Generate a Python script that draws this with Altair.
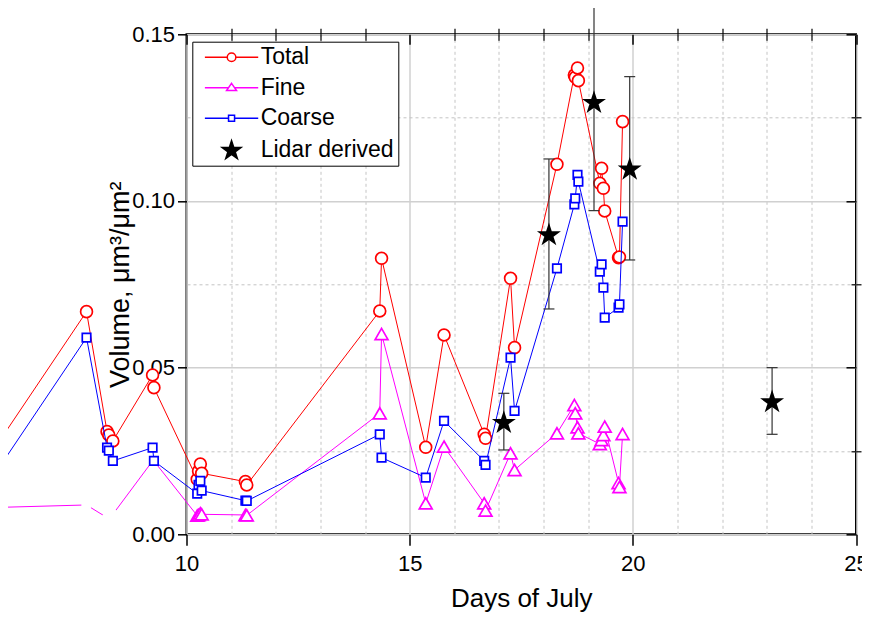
import math
import altair as alt
import pandas as pd

# ---------------- data ----------------
days = [5.6, 7.76, 8.22, 8.26, 8.35, 9.24, 9.27, 10.24, 10.27, 10.31, 10.34,
        11.32, 11.35, 14.33, 14.37, 15.36, 15.77, 16.67, 16.70, 17.26, 17.35,
        18.30, 18.69, 18.71, 18.76, 18.78, 19.26, 19.30, 19.34, 19.37,
        19.68, 19.70, 19.77]
total = [0.0238, 0.0668, 0.0308, 0.0298, 0.0280, 0.0478, 0.0440, 0.0165, 0.0190,
         0.0211, 0.0183, 0.0158, 0.0148, 0.0670, 0.0828, 0.0261, 0.0598, 0.0300,
         0.0288, 0.0768, 0.0560, 0.1110, 0.1378, 0.1371, 0.1399, 0.1361, 0.1053,
         0.1098, 0.1038, 0.0970, 0.0830, 0.0832, 0.1238]
fine = [0.0080, 0.0088, 0.0050, 0.0050, 0.0060, 0.0220, 0.0220, 0.0056, 0.0058,
        0.0063, 0.0060, 0.0058, 0.0057, 0.0363, 0.0601, 0.0093, 0.0263, 0.0093,
        0.0071, 0.0243, 0.0193, 0.0303, 0.0388, 0.0363, 0.0321, 0.0303, 0.0271,
        0.0283, 0.0298, 0.0323, 0.0154, 0.0142, 0.0301]
coarse = [0.0160, 0.0590, 0.0260, 0.0251, 0.0220, 0.0260, 0.0220, 0.0122, 0.0148,
          0.0160, 0.0131, 0.0101, 0.0100, 0.0300, 0.0230, 0.0170, 0.0340, 0.0220,
          0.0208, 0.0530, 0.0370, 0.0798, 0.0990, 0.1008, 0.1078, 0.1058, 0.0788,
          0.0810, 0.0740, 0.0650, 0.0680, 0.0690, 0.0938]

lidar_day = [17.11, 18.12, 19.13, 19.93, 23.12]
lidar_val = [0.0338, 0.0901, 0.1298, 0.1098, 0.0400]
lidar_err = [0.0085, 0.0225, 0.0327, 0.0275, 0.0100]

series_names = ["Total", "Fine", "Coarse", "Lidar derived"]
series_colors = ["#ff0000", "#ff00ff", "#0000ff", "#000000"]

x_major = [10, 15, 20, 25]
x_minor = [11, 12, 13, 14, 16, 17, 18, 19, 21, 22, 23, 24]
y_major = [0.0, 0.05, 0.10, 0.15]
y_minor = [0.025, 0.075, 0.125]

# ---------------- tables ----------------
df_total = pd.DataFrame({"day": days, "value": total})
df_fine = pd.DataFrame({"day": days, "value": fine})
df_coarse = pd.DataFrame({"day": days, "value": coarse})
df_lidar = pd.DataFrame({
    "day": lidar_day,
    "value": lidar_val,
    "lo": [v - e for v, e in zip(lidar_val, lidar_err)],
    "hi": [v + e for v, e in zip(lidar_val, lidar_err)],
})
df_legend = pd.DataFrame({"series": series_names})


# ---------------- symbol paths ----------------
def star_path(scale=1.0):
    pts = []
    for k in range(10):
        ang = math.radians(-90 + 36 * k)
        r = 1.0 if k % 2 == 0 else 0.382
        pts.append((scale * r * math.cos(ang), scale * (r * math.sin(ang) + 0.095)))
    return "M" + "L".join(f"{x:.3f},{y:.3f}" for x, y in pts) + "Z"


STAR = star_path(1.0)
leg_total = "M-6.2,0H-1M1,0H6.2M1,0A1,1,0,1,1,-1,0A1,1,0,1,1,1,0Z"
leg_fine = "M-6.2,0H-0.69M0.69,0H6.2M0,-1L1.16,0.67L-1.16,0.67Z"
leg_coarse = "M-6.2,0H-0.7M0.7,0H6.2M-0.7,-0.7H0.7V0.7H-0.7Z"
leg_lidar = star_path(2.3)

# ---------------- scales & axes ----------------
FONT = "Liberation Sans"
W, H = 669.5, 500
XS = alt.Scale(domain=[10, 25], nice=False, zero=False)
YS = alt.Scale(domain=[0, 0.15], nice=False, zero=False)

ax_x_major = alt.Axis(values=x_major, format="d", title="Days of July", grid=True,
                      gridColor="#d0d0d0", gridWidth=1.5, domain=False,
                      tickSize=11, tickWidth=1.5, tickColor="black",
                      labelFont=FONT, labelFontSize=22, labelColor="black",
                      labelBaseline="alphabetic", labelPadding=25, labelFlush=False,
                      labelOverlap=False,
                      titleFont=FONT, titleFontSize=26, titleFontWeight="normal",
                      titleColor="black", titleY=72, titleBaseline="alphabetic")
ax_y_major = alt.Axis(values=y_major, format=".2f", title="Volume, μm³/μm²", grid=True,
                      gridColor="#d0d0d0", gridWidth=1.5, domain=False,
                      tickSize=9, tickWidth=1.5, tickColor="black",
                      labelFont=FONT, labelFontSize=22, labelColor="black",
                      labelPadding=3, labelFlush=False, labelOverlap=False,
                      titleFont=FONT, titleFontSize=27, titleFontWeight="normal",
                      titleColor="black", titleAngle=270, titleX=-58, titleY=H / 2,
                      titleAlign="center", titleBaseline="alphabetic")
ax_x_minor = alt.Axis(values=x_minor, title=None, labels=False, grid=True,
                      gridColor="#c4c4c4", gridDash=[3, 3], gridWidth=1, domain=False,
                      tickSize=6, tickWidth=1.2, tickColor="black")
ax_y_minor = alt.Axis(values=y_minor, title=None, labels=False, grid=True,
                      gridColor="#c4c4c4", gridDash=[3, 3], gridWidth=1, domain=False,
                      tickSize=5, tickWidth=1.2, tickColor="black")
# inward ticks on the top / right edges
ax_x_top_major = alt.Axis(orient="bottom", offset=-H, values=x_major, title=None,
                          labels=False, grid=False, domain=False,
                          tickSize=10, tickWidth=1.5, tickColor="black")
ax_y_right_major = alt.Axis(orient="left", offset=-W, values=y_major, title=None,
                            labels=False, grid=False, domain=False,
                            tickSize=10, tickWidth=1.5, tickColor="black")
ax_x_top_minor = alt.Axis(orient="bottom", offset=-H, values=x_minor, title=None,
                          labels=False, grid=False, domain=False,
                          tickSize=6, tickWidth=1.2, tickColor="black")
ax_y_right_minor = alt.Axis(orient="left", offset=-W, values=y_minor, title=None,
                            labels=False, grid=False, domain=False,
                            tickSize=5, tickWidth=1.2, tickColor="black")


def enc(xaxis=None, yaxis=None, yfield="value"):
    return dict(x=alt.X("day:Q", scale=XS, axis=xaxis),
                y=alt.Y(f"{yfield}:Q", scale=YS, axis=yaxis))


# ---------------- layers ----------------
total_line = alt.Chart(df_total).mark_line(color=series_colors[0], strokeWidth=1, clip=False).encode(
    **enc(ax_x_major, ax_y_major))
total_pts = alt.Chart(df_total).transform_filter("datum.day > 7").mark_point(
    shape="circle", size=140, filled=False, fill="white", fillOpacity=1,
    stroke=series_colors[0], strokeWidth=1.7, opacity=1, clip=False).encode(
    **enc(ax_x_minor, ax_y_minor))

fine_line = alt.Chart(df_fine).mark_line(color=series_colors[1], strokeWidth=1, clip=False).encode(
    **enc(ax_x_top_major, ax_y_right_major))
fine_gap = alt.Chart(df_fine).transform_filter("datum.day > 7 && datum.day < 9").mark_point(
    shape="circle", size=110, filled=True, color="white", opacity=1, clip=False).encode(
    **enc(ax_x_top_minor, ax_y_right_minor))
fine_pts = alt.Chart(df_fine).transform_filter("datum.day >= 10").mark_point(
    shape="triangle-up", size=165, filled=False, fill="white", fillOpacity=1,
    stroke=series_colors[1], strokeWidth=1.7, opacity=1, clip=False).encode(**enc())

coarse_line = alt.Chart(df_coarse).mark_line(color=series_colors[2], strokeWidth=1, clip=False).encode(**enc())
coarse_pts = alt.Chart(df_coarse).transform_filter("datum.day > 7").mark_point(
    shape="square", size=72, filled=False, fill="white", fillOpacity=1,
    stroke=series_colors[2], strokeWidth=1.7, opacity=1, clip=False).encode(**enc())

err_rule = alt.Chart(df_lidar).mark_rule(color="#333333", strokeWidth=1.2, clip=False).encode(
    x=alt.X("day:Q", scale=XS, axis=None),
    y=alt.Y("lo:Q", scale=YS, axis=None),
    y2="hi:Q")
cap_lo = alt.Chart(df_lidar).mark_tick(orient="horizontal", size=11, thickness=1.2,
                                       color="#333333", opacity=1, clip=False).encode(**enc(yfield="lo"))
cap_hi = alt.Chart(df_lidar).mark_tick(orient="horizontal", size=11, thickness=1.2,
                                       color="#333333", opacity=1, clip=False).encode(**enc(yfield="hi"))
stars = alt.Chart(df_lidar).mark_point(shape=STAR, size=635, filled=True, color="black",
                                       strokeWidth=0, opacity=1, clip=False).encode(**enc())

legend = alt.Legend(title=None, orient="none", legendX=5.8, legendY=7.4, padding=4,
                    strokeColor="black", fillColor="white", cornerRadius=0,
                    symbolSize=74, symbolStrokeWidth=1.5, symbolOffset=23.75,
                    labelOffset=17.6, labelFont=FONT, labelFontSize=23,
                    labelColor="black", labelLimit=400, rowPadding=6.5)
legend_layer = alt.Chart(df_legend).transform_filter("false").mark_point(opacity=1).encode(
    shape=alt.Shape("series:N", scale=alt.Scale(domain=series_names,
                                                range=[leg_total, leg_fine, leg_coarse, leg_lidar]),
                    legend=legend),
    stroke=alt.Stroke("series:N", scale=alt.Scale(domain=series_names, range=series_colors),
                      legend=legend),
    fill=alt.Fill("series:N", scale=alt.Scale(domain=series_names,
                                              range=["white", "white", "white", "black"]),
                  legend=legend),
)

chart = alt.layer(
    total_line, total_pts, fine_line, fine_gap, fine_pts, coarse_line, coarse_pts,
    err_rule, cap_lo, cap_hi, stars, legend_layer
).resolve_axis(
    x="independent", y="independent"
).properties(
    width=W, height=H,
    autosize=alt.AutoSizeParams(type="none"),
    padding={"left": 178.5, "top": 26.3, "right": 6, "bottom": 78.7},
    background="white",
).configure_view(
    stroke="black", strokeWidth=2
)

chart.save("out.html", embed_options={"renderer": "svg", "actions": False})
